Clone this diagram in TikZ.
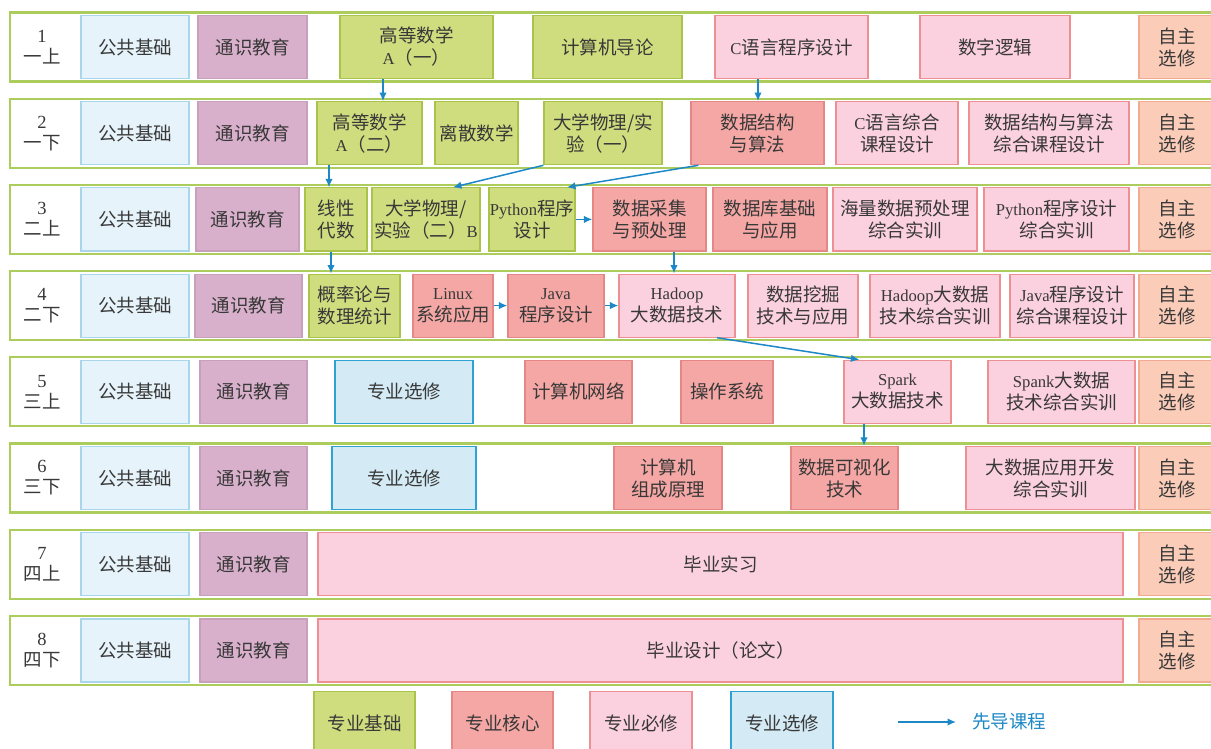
\documentclass[tikz,border=0pt]{standalone}
\usepackage{fontspec}
\setmainfont{Noto Sans CJK SC}
\newfontfamily\lat[Scale=0.9]{Liberation Serif}
\newfontfamily\latn{Liberation Serif}
\usetikzlibrary{arrows.meta}
\definecolor{gongF}{HTML}{E6F3FA}\definecolor{gongD}{HTML}{A9D6EA}
\definecolor{tongF}{HTML}{D8B0CB}\definecolor{tongD}{HTML}{C9A0BC}
\definecolor{jcF}{HTML}{CFDD7E}\definecolor{jcD}{HTML}{A8C44A}
\definecolor{hxF}{HTML}{F4A7A4}\definecolor{hxD}{HTML}{E58885}
\definecolor{bxF}{HTML}{FBD0DF}\definecolor{bxD}{HTML}{EE8F92}
\definecolor{xxF}{HTML}{D4EAF5}\definecolor{xxD}{HTML}{2DA2D3}
\definecolor{zzF}{HTML}{FBCDB9}\definecolor{zzD}{HTML}{F2AA92}
\definecolor{bandC}{HTML}{ACCC5C}
\definecolor{arrC}{HTML}{1E88C7}
\definecolor{txt}{HTML}{383838}
\tikzset{
  cbase/.style={draw, line width=1.2pt, inner sep=0pt, align=center, text=txt,
    font=\fontsize{18.5}{22}\selectfont},
  gong/.style={cbase, fill=gongF, draw=gongD},
  tong/.style={cbase, fill=tongF, draw=tongD},
  jichu/.style={cbase, fill=jcF, draw=jcD},
  hexin/.style={cbase, fill=hxF, draw=hxD},
  bixiu/.style={cbase, fill=bxF, draw=bxD},
  xuanxiu/.style={cbase, fill=xxF, draw=xxD},
  zizhu/.style={cbase, fill=zzF, draw=zzD},
  band/.style={draw=bandC, line width=2.2pt, fill=white},
  lbl/.style={align=center, text=txt, inner sep=0pt, font=\fontsize{18.5}{21}\selectfont},
  arr/.style={draw=arrC, line width=1.5pt, -{Latex[length=8.5pt,width=7.5pt]}},
}
% name, style, x1, x2, yc, text
\newcommand\cb[6]{\node[#2, minimum width={(#4-#3)*1pt}, minimum height=63pt] (#1) at ({(#3+#4)/2},#5) {#6};}
% k, yc, number, label, tong x1, tong x2
\newcommand\rowbase[6]{%
  \draw[band] (10,{#2-34.5}) rectangle (1225,{#2+34.5});
  \node[lbl] (r#1) at (42,#2) {{\latn #3}\\#4};
  \cb{a#1}{gong}{81}{189}{#2}{公共基础}
  \cb{b#1}{tong}{#5}{#6}{#2}{通识教育}
  \cb{z#1}{zizhu}{1139}{1215}{#2}{自主\\选修}
}
\begin{document}
\begin{tikzpicture}[x=1pt,y=-1pt]
\useasboundingbox (0,0) rectangle (1211,749);
\clip (0,0) rectangle (1211,749);
\fill[white] (0,0) rectangle (1211,749);

% row 1
\rowbase{1}{47}{1}{一上}{198}{307}
\cb{gs1}{jichu}{340}{493}{47}{高等数学\\{\lat A}（一）}
\cb{jsj}{jichu}{533}{682}{47}{计算机导论}
\cb{cyy}{bixiu}{715}{868}{47}{{\lat C}语言程序设计}
\cb{szlj}{bixiu}{920}{1070}{47}{数字逻辑}

% row 2
\rowbase{2}{133.2}{2}{一下}{198}{307}
\cb{gs2}{jichu}{317}{422}{133.2}{高等数学\\{\lat A}（二）}
\cb{lssx}{jichu}{435}{518}{133.2}{离散数学}
\cb{wl1}{jichu}{544}{662}{133.2}{大学物理/实\\验（一）}
\cb{sjjg}{hexin}{691}{824}{133.2}{数据结构\\与算法}
\cb{czh}{bixiu}{836}{958}{133.2}{{\lat C}语言综合\\课程设计}
\cb{sjzh}{bixiu}{969}{1129}{133.2}{数据结构与算法\\综合课程设计}

% row 3
\rowbase{3}{219.4}{3}{二上}{196}{299}
\cb{xxds}{jichu}{305}{367}{219.4}{线性\\代数}
\cb{wl2}{jichu}{372}{480}{219.4}{大学物理/\\实验（二）{\lat B}}
\cb{py}{jichu}{489}{575}{219.4}{{\lat Python}程序\\设计}
\cb{cj}{hexin}{593}{706}{219.4}{数据采集\\与预处理}
\cb{sjk}{hexin}{713}{827}{219.4}{数据库基础\\与应用}
\cb{hl}{bixiu}{833}{977}{219.4}{海量数据预处理\\综合实训}
\cb{pyzh}{bixiu}{984}{1129}{219.4}{{\lat Python}程序设计\\综合实训}

% row 4
\rowbase{4}{305.6}{4}{二下}{195}{302}
\cb{gl}{jichu}{309}{400}{305.6}{概率论与\\数理统计}
\cb{lx}{hexin}{413}{493}{305.6}{{\lat Linux}\\系统应用}
\cb{jv}{hexin}{508}{604}{305.6}{{\lat Java}\\程序设计}
\cb{hd}{bixiu}{619}{735}{305.6}{{\lat Hadoop}\\大数据技术}
\cb{wj}{bixiu}{748}{858}{305.6}{数据挖掘\\技术与应用}
\cb{hdzh}{bixiu}{870}{1000}{305.6}{{\lat Hadoop}大数据\\技术综合实训}
\cb{jvzh}{bixiu}{1010}{1134}{305.6}{{\lat Java}程序设计\\综合课程设计}

% row 5
\rowbase{5}{391.8}{5}{三上}{200}{307}
\cb{zx5}{xuanxiu}{335}{473}{391.8}{专业选修}
\cb{wl}{hexin}{525}{632}{391.8}{计算机网络}
\cb{cz}{hexin}{681}{773}{391.8}{操作系统}
\cb{sp}{bixiu}{844}{951}{391.8}{{\lat Spark}\\大数据技术}
\cb{spzh}{bixiu}{988}{1135}{391.8}{{\lat Spank}大数据\\技术综合实训}

% row 6
\rowbase{6}{478}{6}{三下}{200}{307}
\cb{zx6}{xuanxiu}{332}{476}{478}{专业选修}
\cb{zc}{hexin}{614}{722}{478}{计算机\\组成原理}
\cb{ks}{hexin}{791}{898}{478}{数据可视化\\技术}
\cb{dsj}{bixiu}{966}{1135}{478}{大数据应用开发\\综合实训}

% row 7
\rowbase{7}{564.2}{7}{四上}{200}{307}
\cb{sx}{bixiu}{318}{1123}{564.2}{毕业实习}

% row 8
\rowbase{8}{650.4}{8}{四下}{200}{307}
\cb{bs}{bixiu}{318}{1123}{650.4}{毕业设计（论文）}

% legend
\cb{lg1}{jichu}{314}{415}{723}{专业基础}
\cb{lg2}{hexin}{452}{553}{723}{专业核心}
\cb{lg3}{bixiu}{590}{692}{723}{专业必修}
\cb{lg4}{xuanxiu}{731}{833}{723}{专业选修}
\node[lbl, text=arrC, anchor=west] (lgt) at (972,722) {先导课程};
\coordinate (lga) at (898,722);
\draw[arr] (lga) -- ([xshift=-16]lgt.west);

% arrows
\coordinate (p1) at ([xshift=-33.5]gs1.south);
\draw[arr] (p1) -- (p1 |- gs2.north);
\coordinate (p2) at ([xshift=-33.5]cyy.south);
\draw[arr] (p2) -- (p2 |- sjjg.north);
\coordinate (p3) at ([xshift=-40.5]gs2.south);
\draw[arr] (p3) -- (p3 |- xxds.north);
\draw[arr] (wl1.south west) -- ([xshift=27]wl2.north);
\draw[arr] ([xshift=8]sjjg.south west) -- ([xshift=35]py.north);
\draw[arr] (py.east) -- (cj.west);
\coordinate (p4) at ([xshift=-5]xxds.south);
\draw[arr] (p4) -- (p4 |- gl.north);
\coordinate (p5) at ([xshift=24.5]cj.south);
\draw[arr] (p5) -- (p5 |- hd.north);
\draw[arr] (lx.east) -- (jv.west);
\draw[arr] (jv.east) -- (hd.west);
\draw[arr] ([xshift=40]hd.south) -- ([xshift=16]sp.north west);
\coordinate (p6) at ([xshift=-33.5]sp.south);
\draw[arr] (p6) -- (p6 |- ks.north);
\end{tikzpicture}
\end{document}
